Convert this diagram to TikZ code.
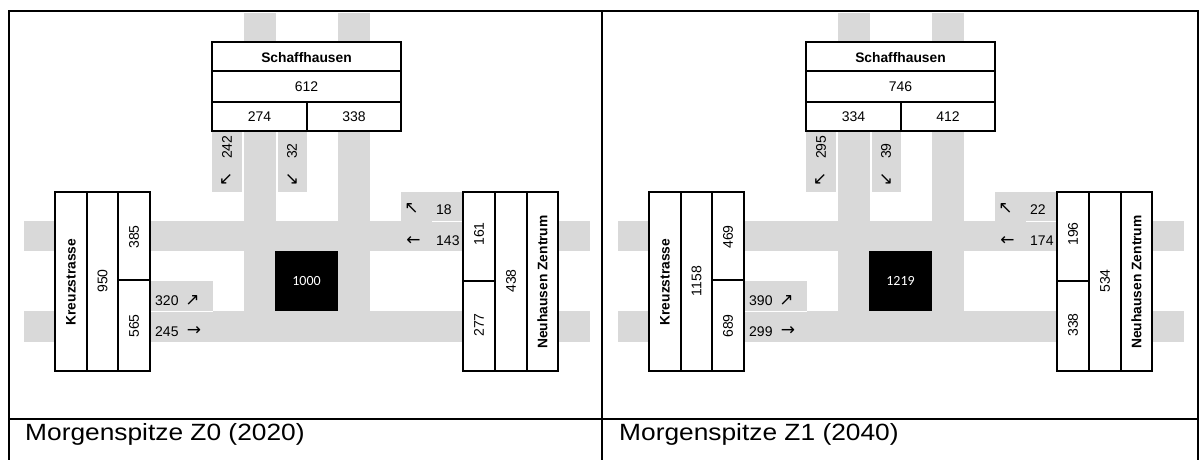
\documentclass[tikz,border=0pt]{standalone}
\usepackage{fontspec}
\setmainfont{Liberation Sans}
\newfontfamily\arrowfont{DejaVu Sans}
\newfontfamily\blkfont{Carlito}
\newfontfamily\capfont{Liberation Sans}[FakeStretch=1.12]
\definecolor{roadgray}{RGB}{217,217,217}
\tikzset{
  road/.style={fill=roadgray, draw=none},
  boxline/.style={draw=black, line width=1.7pt, fill=white},
  innerline/.style={draw=black, line width=1.4pt},
  sepline/.style={draw=white, line width=1.6pt},
  num/.style={font=\fontsize{14}{16}\selectfont, inner sep=0pt},
  sname/.style={font=\fontsize{13.8}{16}\selectfont\bfseries, inner sep=0pt},
  vnum/.style={num, rotate=90},
  vname/.style={sname, rotate=90},
  arr/.style={font=\arrowfont\fontsize{17}{18}\selectfont, inner sep=0pt},
  blk/.style={font=\blkfont\fontsize{14}{16}\selectfont, text=white, inner sep=0pt},
  framel/.style={draw=black, line width=2pt},
  captxt/.style={font=\capfont\fontsize{23.5}{26}\selectfont, anchor=base west, inner sep=0pt},
}
\newcommand\drawpanel[2]{%
\begin{scope}[shift={(#1,0)}, name prefix=#2]
  % roads
  \fill[road] (244,13) rectangle (276,311);
  \fill[road] (338,13) rectangle (370,311);
  \fill[road] (24,221) rectangle (590,251);
  \fill[road] (24,311) rectangle (590,342);
  \fill[road] (212,131) rectangle (242,192);
  \fill[road] (277.5,131) rectangle (307,192);
  \fill[road] (150,281) rectangle (213,311);
  \fill[road] (401,192) rectangle (463,221);
  \draw[sepline] (149,311.5) -- (213,311.5);
  \draw[sepline] (432,221.5) -- (463,221.5);
  % Schaffhausen
  \draw[boxline] (212,42) rectangle (401,131);
  \draw[innerline] (212,71) -- (401,71) (212,102) -- (401,102) (307,102) -- (307,131);
  \node[sname] (sh) at (306.5,58) {Schaffhausen};
  \node[num] (shtot) at (306.5,87) {\vTop};
  \node[num] (shin) at (259.5,117) {\vTopL};
  \node[num] (shout) at (354,117) {\vTopR};
  \node[vnum, anchor=west] (shl) at (227,159) {\vSL};
  \node[arr] (shla) at (226,180) {↙};
  \node[vnum, anchor=west] (shr) at (292,159) {\vSR};
  \node[arr] (shra) at (292,180) {↘};
  % Kreuzstrasse
  \draw[boxline] (55,192) rectangle (150,371);
  \draw[innerline] (87,192) -- (87,371) (118,192) -- (118,371) (118,280) -- (150,280);
  \node[vname] (kr) at (71,282) {Kreuzstrasse};
  \node[vnum] (krtot) at (102.5,281) {\vK};
  \node[vnum] (krin) at (134,237) {\vKin};
  \node[vnum] (krout) at (134,326) {\vKout};
  \node[num, anchor=west] (krl) at (155,300.5) {\vKl};
  \node[arr] (krla) at (192.5,300) {↗};
  \node[num, anchor=west] (krs) at (155,331.5) {\vKs};
  \node[arr] (krsa) at (194,331.5) {→};
  % centre
  \fill[black] (275,251) rectangle (338,311);
  \node[blk] (ctr) at (306.5,281) {\vC};
  % Neuhausen
  \draw[boxline] (463,192) rectangle (558,371);
  \draw[innerline] (495,192) -- (495,371) (527,192) -- (527,371) (463,281) -- (495,281);
  \node[vname] (nz) at (542.5,282) {Neuhausen Zentrum};
  \node[vnum] (nztot) at (511,281) {\vN};
  \node[vnum] (nzin) at (479,234) {\vNin};
  \node[vnum] (nzout) at (479,325) {\vNout};
  \node[arr] (nzra) at (411.5,209) {↖};
  \node[num, anchor=west] (nzr) at (436,210) {\vNr};
  \node[arr] (nzsa) at (413.5,241) {←};
  \node[num, anchor=west] (nzs) at (436,241) {\vNs};
  % caption
  \node[captxt] (cap) at (25,440) {\vCap};
\end{scope}}
\begin{document}
\begin{tikzpicture}[x=1pt,y=-1pt]
  \useasboundingbox (0,0) rectangle (1203,459);
  \fill[white] (0,0) rectangle (1203,459);
  \def\vTop{612}\def\vTopL{274}\def\vTopR{338}\def\vSL{242}\def\vSR{32}
  \def\vK{950}\def\vKin{385}\def\vKout{565}\def\vKl{320}\def\vKs{245}
  \def\vC{1000}
  \def\vN{438}\def\vNin{161}\def\vNout{277}\def\vNr{18}\def\vNs{143}
  \def\vCap{Morgenspitze Z0 (2020)}
  \drawpanel{0}{L-}
  \def\vTop{746}\def\vTopL{334}\def\vTopR{412}\def\vSL{295}\def\vSR{39}
  \def\vK{1158}\def\vKin{469}\def\vKout{689}\def\vKl{390}\def\vKs{299}
  \def\vC{1219}
  \def\vN{534}\def\vNin{196}\def\vNout{338}\def\vNr{22}\def\vNs{174}
  \def\vCap{Morgenspitze Z1 (2040)}
  \drawpanel{594}{R-}
  % frame
  \draw[framel] (9,460) -- (9,11) -- (1198,11) -- (1198,460);
  \draw[framel] (602,11) -- (602,460);
  \draw[framel] (8,419) -- (1199,419);
\end{tikzpicture}
\end{document}
